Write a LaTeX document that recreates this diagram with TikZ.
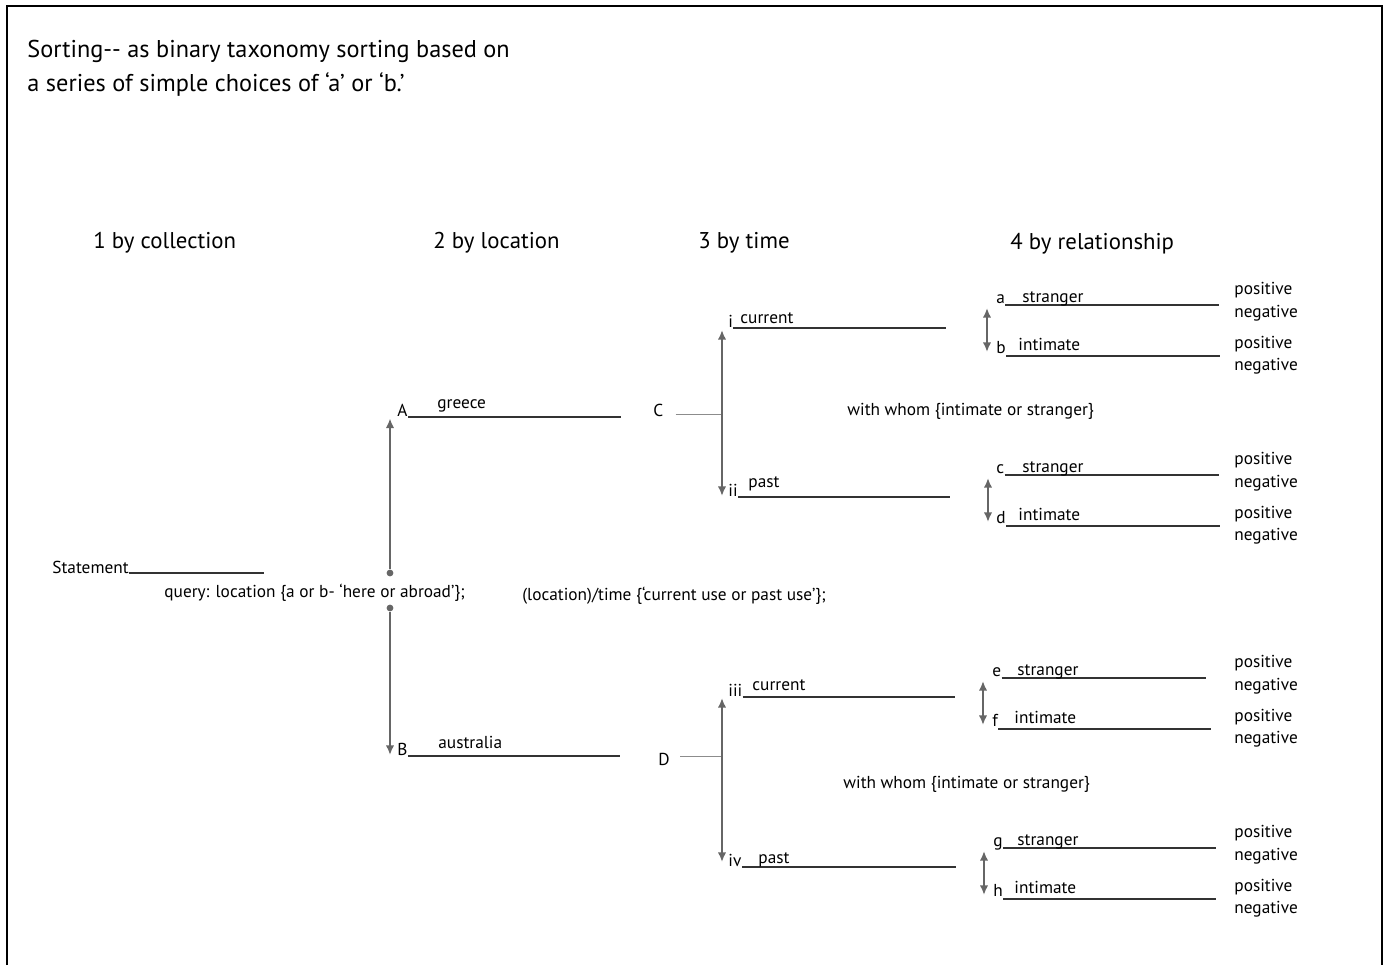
\documentclass[tikz,border=0pt]{standalone}
\usepackage{fontspec}
\setmainfont{PT Sans}
\usetikzlibrary{arrows.meta,positioning}

\begin{document}
\begin{tikzpicture}[
    x=0.5pt, y=-0.5pt,
    txt/.style={inner sep=0pt, anchor=base west, font=\fontsize{8.65}{10}\selectfont},
    headtxt/.style={inner sep=0pt, anchor=base west, font=\fontsize{11.4}{13}\selectfont},
    titletxt/.style={inner sep=0pt, anchor=base west, font=\fontsize{12.15}{14}\selectfont},
    rule/.style={draw=black!80, line width=0.55pt},
    forkline/.style={draw=black!45, line width=0.45pt},
    choice/.style={draw=black!60, line width=1pt, {Latex[length=4.8pt,width=4.2pt]}-{Latex[length=4.8pt,width=4.2pt]}},
    pickline/.style={draw=black!60, line width=1pt, -{Latex[length=4.8pt,width=4.2pt]}},
    dotnode/.style={circle, fill=black!60, inner sep=0pt, minimum size=3.4pt}
]
\useasboundingbox (0,0) rectangle (1388,965);
\draw[line width=1.2pt] (7,965) -- (7,6) -- (1382,6) -- (1382,965);

% Title
\node[titletxt] (t1) at (27,57) {Sorting-{}- as binary taxonomy sorting based on};
\node[titletxt] (t2) at (27,91) {a series of simple choices of ‘a’ or ‘b.’};

% Column heads
\node[headtxt] (h1) at (93,248) {1 by collection};
\node[headtxt] (h2) at (433,248) {2 by location};
\node[headtxt] (h3) at (698,248) {3 by time};
\node[headtxt] (h4) at (1010,249) {4 by relationship};

% Statement and location query
\node[txt] (stm) at (52,573) {Statement};
\coordinate (stm-end) at (264,573);
\draw[rule] (stm.base east) -- (stm-end);
\node[txt] (qloc) at (164,597) {query: location \{a or b- ‘here or abroad’\};};
\node[txt] (qtime) at (522,600) {(location)/time \{‘current use or past use’\};};

\node[dotnode] (up) at (390,573) {};
\node[dotnode] (down) at (390,608) {};

% Location nodes
\node[txt] (A) at (397,416) {A};
\node[txt] (B) at (397,755) {B};
\coordinate (A-end) at (621,417);
\coordinate (B-end) at (620,756);
\draw[rule] (A.base east |- A-end) -- (A-end);
\draw[rule] (B.base east |- B-end) -- (B-end);
\node[txt] (greece) at (437,408) {greece};
\node[txt] (aus) at (438,748) {australia};
\draw[pickline] (up) -- ([yshift=-1pt]A.south west -| up);
\draw[pickline] (down) -- (B.base west -| down);

\node[txt] (C) at (653,416) {C};
\node[txt] (D) at (658,765) {D};
\coordinate (C-fork) at (722,414);
\coordinate (D-fork) at (722,756);
\draw[forkline] ([xshift=6pt]C.east |- C-fork) -- (C-fork);
\draw[forkline] ([xshift=5pt]D.east |- D-fork) -- (D-fork);

% Time nodes
\foreach \n/\lbl/\y/\w/\wx/\wy/\e in {i/i/328/current/740/323/946, ii/ii/497/past/748/487/950,
                                      iii/iii/697/current/752/690/955, iv/iv/867/past/758/863/956}{
  \node[txt] (\n) at (728,\y-1) {\lbl};
  \coordinate (\n-end) at (\e,\y);
  \draw[rule] (\n.base east |- \n-end) -- (\n-end);
  \node[txt] (\n-w) at (\wx,\wy) {\w};
}
\coordinate (i-tip) at (722,330);
\coordinate (ii-tip) at (722,496);
\coordinate (iii-tip) at (722,698);
\coordinate (iv-tip) at (722,862);
\draw[choice] (ii-tip) -- (i-tip);
\draw[choice] (iv-tip) -- (iii-tip);

\node[txt] (whom1) at (847,415) {with whom \{intimate or stranger\}};
\node[txt] (whom2) at (843,788) {with whom \{intimate or stranger\}};

% Relationship nodes
\foreach \u/\l/\y/\ax/\lx/\ea/\eb/\sx/\ix in {a/b/305/987/996/1219/1220/1022/1018,
                                              c/d/475/988/996/1219/1220/1022/1018,
                                              e/f/678/983/992/1206/1211/1017/1014,
                                              g/h/848/984/993/1216/1216/1017/1014}{
  \node[txt] (r\u) at (\lx,\y-2) {\u};
  \node[txt] (r\l) at (\lx,\y+48) {\l};
  \coordinate (r\u-end) at (\ea,\y);
  \coordinate (r\l-end) at (\eb,\y+51);
  \draw[rule] (r\u.base east |- r\u-end) -- (r\u-end);
  \draw[rule] (r\l.base east |- r\l-end) -- (r\l-end);
  \node[txt] (r\u-w) at (\sx,\y-3) {stranger};
  \node[txt] (r\l-w) at (\ix,\y+45) {intimate};
  \coordinate (r\u-tip) at (\ax,\y+3);
  \coordinate (r\l-tip) at (\ax,\y+47);
  \draw[choice] (r\l-tip) -- (r\u-tip);
  % outcomes
  \node[txt] (r\u-pos) at (1234,\y-11) {positive};
  \node[txt] (r\u-neg) at (1234,\y+12) {negative};
  \node[txt] (r\l-pos) at (1234,\y+43) {positive};
  \node[txt] (r\l-neg) at (1234,\y+65) {negative};
}

\end{tikzpicture}
\end{document}
